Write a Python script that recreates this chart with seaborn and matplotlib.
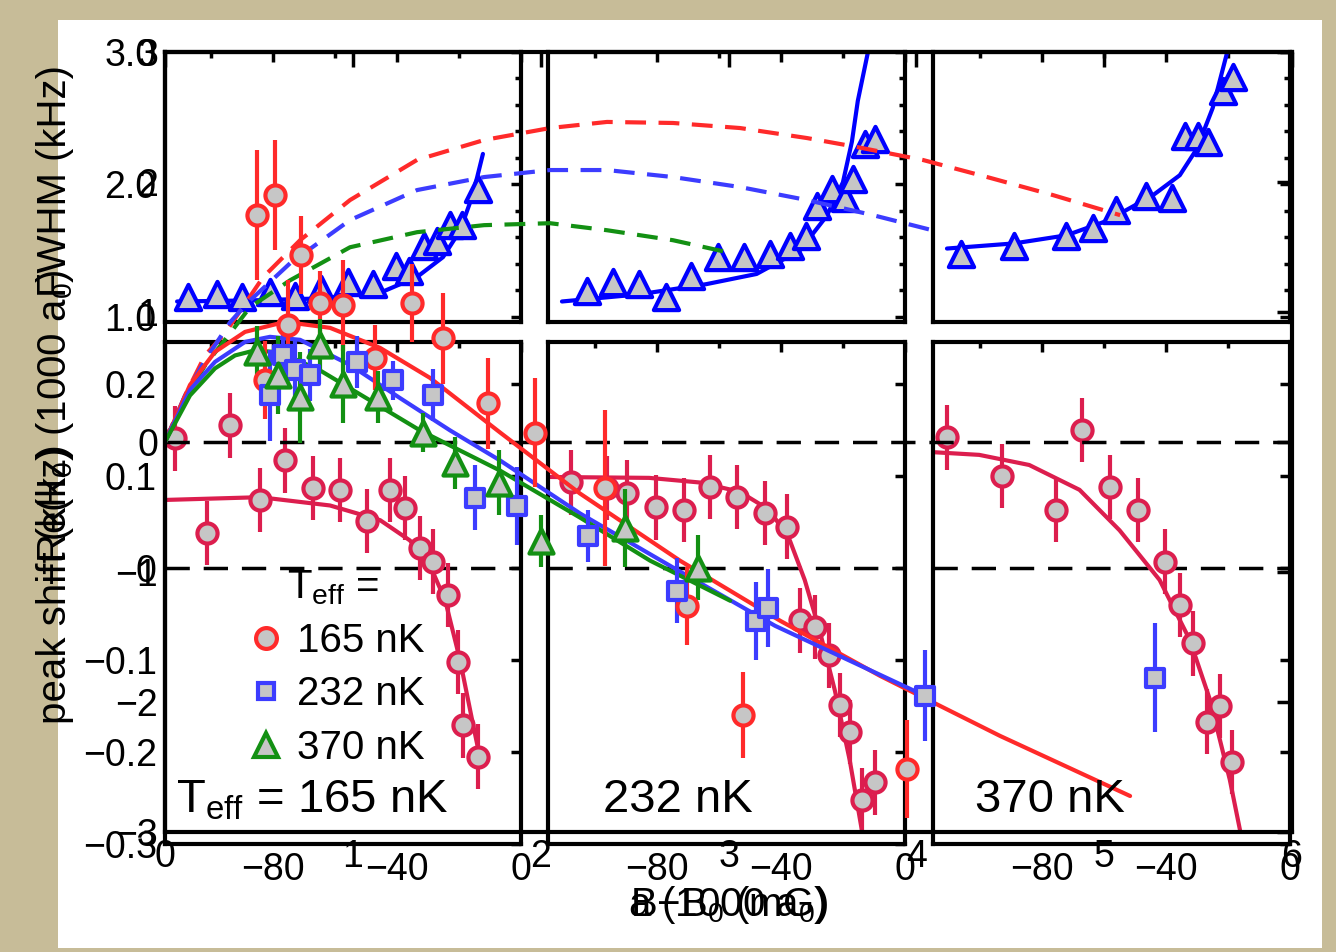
import matplotlib
matplotlib.use("Agg")
import matplotlib.pyplot as plt
import seaborn as sns
from matplotlib.patches import Rectangle
from matplotlib.lines import Line2D
from matplotlib.ticker import FixedLocator, MultipleLocator

# ---------------- Figure A data: a (1000 a0) vs value (1000 a0) ----------------
temps = ["165 nK", "232 nK", "370 nK"]

red_pts_a = [0.49, 0.586, 0.724, 0.655, 0.825, 0.948, 1.315, 1.48, 1.118, 0.532, 1.72, 1.97, 2.343, 2.78, 3.078, 3.95]
red_pts_v = [1.745, 1.90, 1.437, 0.897, 1.067, 1.052, 1.067, 0.797, 0.647, 0.474, 0.297, 0.073, -0.35, -1.26, -2.10, -2.515]
red_pts_e = [0.5, 0.42, 0.3, 0.35, 0.25, 0.35, 0.3, 0.35, 0.25, 0.3, 0.35, 0.42, 0.6, 0.3, 0.33, 0.38]

blue_pts_a = [0.559, 0.628, 0.692, 0.772, 1.022, 1.214, 1.427, 1.651, 1.874, 2.252, 2.726, 3.147, 3.21, 4.047, 5.27]
blue_pts_v = [0.358, 0.666, 0.551, 0.513, 0.612, 0.474, 0.359, -0.428, -0.489, -0.72, -1.144, -1.375, -1.275, -1.953, -1.814]
blue_pts_e = [0.35, 0.2, 0.25, 0.2, 0.2, 0.15, 0.2, 0.25, 0.3, 0.2, 0.25, 0.3, 0.3, 0.35, 0.42]

green_pts_a = [0.49, 0.60, 0.719, 0.825, 0.948, 1.134, 1.374, 1.544, 1.779, 2.0, 2.449, 2.838]
green_pts_v = [0.69, 0.513, 0.343, 0.743, 0.45, 0.343, 0.073, -0.158, -0.312, -0.759, -0.659, -0.967]
green_pts_e = [0.2, 0.3, 0.35, 0.2, 0.3, 0.2, 0.15, 0.2, 0.25, 0.2, 0.3, 0.25]

# solid curves (real part)
red_re_a = [0, .133, .266, .426, .639, .879, 1.145, 1.411, 1.784, 2.21, 2.742, 3.275, 3.807, 4.446, 5.138]
red_re_v = [0, .439, .693, .847, .924, .878, .724, .493, .073, -.397, -.913, -1.375, -1.799, -2.261, -2.723]
blue_re_a = [0, .133, .266, .426, .559, .719, .985, 1.25, 1.518, 1.784, 2.21, 2.716, 3.248, 4.047]
blue_re_v = [0, .40, .616, .77, .809, .786, .593, .339, .089, -.142, -.55, -.975, -1.414, -1.953]
green_re_a = [0, .133, .266, .373, .479, .612, .825, 1.092, 1.358, 1.784, 2.21, 2.583, 3.009]
green_re_v = [0, .358, .566, .666, .705, .689, .551, .32, .089, -.22, -.582, -.913, -1.221]

# dashed curves
red_im_a = [0, .107, .213, .319, .522, .719, .985, 1.342, 1.699, 2.050, 2.353, 2.705, 3.062, 3.418, 3.684, 4.036, 4.377, 4.728, 5.085]
red_im_v = [0, .358, .666, .836, 1.267, 1.552, 1.861, 2.17, 2.323, 2.415, 2.462, 2.454, 2.415, 2.338, 2.269, 2.169, 2.038, 1.899, 1.745]
blue_im_a = [0, .107, .213, .346, .436, .666, .985, 1.342, 1.699, 2.050, 2.353, 2.705, 3.062, 3.418, 3.769, 4.126]
blue_im_v = [0, .358, .628, .92, 1.066, 1.375, 1.707, 1.938, 2.038, 2.092, 2.092, 2.038, 1.961, 1.861, 1.745, 1.614]
green_im_a = [0, .107, .213, .346, .452, .666, .985, 1.342, 1.699, 2.050, 2.353, 2.705, 2.993]
green_im_v = [0, .335, .589, .836, 1.036, 1.244, 1.498, 1.614, 1.668, 1.683, 1.629, 1.552, 1.46]

# ---------------- Figure B data: B-B0 (mG) ----------------
panel_labels = [r"T$_{\rm eff}$ = 165 nK", "232 nK", "370 nK"]

fwhm_x = [
    [-107.6, -98.2, -90.1, -81.1, -73.0, -64.6, -55.9, -47.8, -40.4, -36.2, -31.3, -27.1, -22.9, -19.1, -13.9],
    [-102.4, -94.0, -85.6, -76.9, -68.8, -60.1, -52.0, -43.6, -37.1, -32.0, -28.4, -23.6, -19.4, -16.8, -12.9, -9.7],
    [-105.9, -88.8, -72.0, -63.6, -55.9, -46.5, -38.1, -33.9, -29.7, -26.5, -21.6, -18.4],
]
fwhm_y = [
    [1.146, 1.169, 1.146, 1.185, 1.154, 1.208, 1.262, 1.246, 1.385, 1.346, 1.531, 1.569, 1.692, 1.692, 1.962],
    [1.192, 1.262, 1.246, 1.146, 1.308, 1.454, 1.454, 1.477, 1.538, 1.608, 1.838, 1.962, 1.90, 2.038, 2.308, 2.346],
    [1.477, 1.538, 1.608, 1.669, 1.808, 1.915, 1.90, 2.362, 2.362, 2.323, 2.708, 2.808],
]
fwhm_fit_x = [
    [-111.1, -87.5, -64.9, -44.6, -33.6, -25.2, -19.7, -16.5, -14.2, -12.3],
    [-110.5, -85.6, -64.0, -47.8, -33.9, -25.2, -20.0, -17.1, -15.2, -12.0],
    [-110.5, -88.8, -72.0, -59.1, -44.3, -35.5, -30.0, -24.9, -20.3],
]
fwhm_fit_y = [
    [1.115, 1.123, 1.138, 1.19, 1.30, 1.45, 1.65, 1.86, 2.05, 2.23],
    [1.115, 1.169, 1.246, 1.323, 1.50, 1.762, 2.015, 2.323, 2.631, 2.992],
    [1.515, 1.554, 1.615, 1.723, 1.915, 2.069, 2.269, 2.577, 2.992],
]

shift_x = [
    [-111.8, -101.4, -94.0, -84.3, -76.2, -67.2, -58.5, -49.7, -42.3, -37.5, -32.6, -28.4, -23.6, -20.3, -18.7, -13.9],
    [-107.6, -96.0, -89.5, -80.1, -71.1, -62.7, -54.0, -45.2, -38.1, -33.9, -29.1, -24.5, -21.0, -17.8, -13.9, -9.7],
    [-110.5, -92.7, -75.3, -66.9, -58.1, -49.1, -40.4, -35.5, -31.3, -26.8, -22.6, -18.7],
]
shift_y = [
    [.141, .038, .155, .074, .117, .087, .085, .051, .085, .065, .022, .007, -.029, -.102, -.171, -.205],
    [.093, .087, .082, .066, .063, .088, .077, .060, .045, -.057, -.064, -.095, -.149, -.178, -.252, -.233],
    [.142, .100, .063, .150, .088, .063, .007, -.040, -.082, -.167, -.150, -.211],
]
shift_fit_x = [
    [-115, -84.3, -61.7, -45.5, -35.9, -29.4, -24.5, -19.7, -15.8, -13.2],
    [-115.3, -82.4, -66.2, -53.3, -43.6, -37.1, -32.3, -27.5, -22.6, -17.8, -13.9],
    [-115.3, -100.1, -84.0, -67.8, -54.9, -42.0, -32.3, -25.8, -19.4, -16.1],
]
shift_fit_y = [
    [.074, .077, .068, .052, .030, .003, -.035, -.100, -.165, -.207],
    [.099, .098, .093, .083, .063, .030, -.013, -.068, -.133, -.209, -.285],
    [.126, .123, .112, .085, .041, -.013, -.078, -.143, -.230, -.285],
]

# ---------------- styling ----------------
sns.set_theme(style="white")
plt.rcParams["font.family"] = ["Liberation Sans", "DejaVu Sans"]
plt.rcParams["mathtext.fontset"] = "custom"
plt.rcParams["mathtext.rm"] = "Liberation Sans"
plt.rcParams["mathtext.it"] = "Liberation Sans:italic"
plt.rcParams["text.color"] = "black"
plt.rcParams["xtick.color"] = "black"
plt.rcParams["ytick.color"] = "black"

W, H = 1336, 952
RED, BLUE, GREEN = "#ff2a2a", "#3c3cff", "#139013"
CRIMSON, PBLUE = "#dc1e4e", "#0000ff"
GRAY = "#c6c6c6"
TICKFS = 27

fig = plt.figure(figsize=(W / 100, H / 100), dpi=100, facecolor="#c7bc98")
fig.patches.append(Rectangle((58 / W, 1 - 948 / H), (1322 - 58) / W, (948 - 20) / H,
                             transform=fig.transFigure, facecolor="white", edgecolor="none", zorder=-5))


def rect(x0, x1, y0, y1):
    return [x0 / W, 1 - y1 / H, (x1 - x0) / W, (y1 - y0) / H]


def style_axes(ax, lw=3.0):
    for s in ax.spines.values():
        s.set_linewidth(lw)
        s.set_color("black")
    ax.tick_params(which="both", direction="in", top=True, right=True, colors="black",
                   labelcolor="black", labelsize=TICKFS, width=2.5, pad=6)
    ax.tick_params(which="major", length=7)
    ax.tick_params(which="minor", length=4)


cols = [(165, 521), (548, 905), (933, 1290)]
rows = [(52, 322), (342, 844)]

for j, (x0, x1) in enumerate(cols):
    # top row: FWHM
    axt = fig.add_axes(rect(x0, x1, *rows[0]), zorder=1)
    axt.set_facecolor("white")
    sns.lineplot(x=fwhm_fit_x[j], y=fwhm_fit_y[j], ax=axt, color=PBLUE, lw=3, sort=False, estimator=None)
    axt.errorbar(fwhm_x[j], fwhm_y[j], yerr=[[0.06] * len(fwhm_y[j]), [0.0] * len(fwhm_y[j])],
                 fmt="none", ecolor=PBLUE, elinewidth=2.5, zorder=4)
    sns.scatterplot(x=fwhm_x[j], y=fwhm_y[j], ax=axt, marker="^", s=330, color=GRAY,
                    edgecolor=PBLUE, linewidth=3, zorder=5)
    axt.set_xlim(-115, 0)
    axt.set_ylim(0.96, 3.0)
    style_axes(axt)
    axt.xaxis.set_major_locator(FixedLocator([-80, -40, 0]))
    axt.xaxis.set_minor_locator(FixedLocator([-100, -60, -20]))
    axt.yaxis.set_major_locator(FixedLocator([1, 2, 3]))
    axt.yaxis.set_minor_locator(MultipleLocator(0.2))
    axt.set_xticklabels([])
    if j == 0:
        axt.set_yticklabels(["1.0", "2.0", "3.0"], fontsize=TICKFS)
    else:
        axt.set_yticklabels([])
    axt.set_xlabel("")
    axt.set_ylabel("")

    # bottom row: peak shift
    axb = fig.add_axes(rect(x0, x1, *rows[1]), zorder=1)
    axb.set_facecolor("white")
    axb.axhline(0, color="black", lw=2.5, dashes=(7, 4), zorder=1)
    sns.lineplot(x=shift_fit_x[j], y=shift_fit_y[j], ax=axb, color=CRIMSON, lw=3, sort=False, estimator=None)
    axb.errorbar(shift_x[j], shift_y[j], yerr=0.035, fmt="none", ecolor=CRIMSON, elinewidth=3, zorder=4)
    sns.scatterplot(x=shift_x[j], y=shift_y[j], ax=axb, marker="o", s=210, color=GRAY,
                    edgecolor=CRIMSON, linewidth=3, zorder=5)
    axb.set_xlim(-115, 0)
    axb.set_ylim(-0.3, 0.2457)
    style_axes(axb)
    axb.xaxis.set_major_locator(FixedLocator([-80, -40, 0]))
    axb.xaxis.set_minor_locator(FixedLocator([-100, -60, -20]))
    axb.yaxis.set_major_locator(FixedLocator([-0.3, -0.2, -0.1, 0, 0.1, 0.2]))
    axb.set_xticklabels(["\u221280", "\u221240", "0"], fontsize=TICKFS)
    if j == 0:
        axb.set_yticklabels(["\u22120.3", "\u22120.2", "\u22120.1", "0", "0.1", "0.2"], fontsize=TICKFS)
    else:
        axb.set_yticklabels([])
    axb.set_xlabel("")
    axb.set_ylabel("")
    tx = {0: (176, 800, "left"), 1: (678, 800, "center"), 2: (1050, 800, "center")}[j]
    fig.text(tx[0] / W, 1 - tx[1] / H, panel_labels[j], fontsize=34, ha=tx[2], va="center",
             color="black", zorder=30)

# ---------------- overlay axes: figure A ----------------
axA = fig.add_axes(rect(165, 1292, 52, 832), zorder=10)
axA.patch.set_alpha(0)
axA.axhline(0, color="black", lw=2.5, dashes=(7, 4), zorder=1)
for xa, va, c in [(red_im_a, red_im_v, RED), (blue_im_a, blue_im_v, BLUE), (green_im_a, green_im_v, GREEN)]:
    sns.lineplot(x=xa, y=va, ax=axA, color=c, lw=3, sort=False, estimator=None)
    axA.lines[-1].set_dashes((5, 3))
for xa, va, c in [(red_re_a, red_re_v, RED), (blue_re_a, blue_re_v, BLUE), (green_re_a, green_re_v, GREEN)]:
    sns.lineplot(x=xa, y=va, ax=axA, color=c, lw=3, sort=False, estimator=None)

pts = [
    (red_pts_a, red_pts_v, red_pts_e, RED, "o", 210),
    (blue_pts_a, blue_pts_v, blue_pts_e, BLUE, "s", 150),
    (green_pts_a, green_pts_v, green_pts_e, GREEN, "^", 300),
]
for xa, va, ea, c, m, s in pts:
    axA.errorbar(xa, va, yerr=ea, fmt="none", ecolor=c, elinewidth=3, zorder=6)
    sns.scatterplot(x=xa, y=va, ax=axA, marker=m, s=s, color=GRAY, edgecolor=c, linewidth=3, zorder=7)

axA.set_xlim(0, 6)
axA.set_ylim(-3, 3)
style_axes(axA)
axA.tick_params(which="major", length=11, pad=5)
axA.set_xticks([0, 1, 2, 3, 4, 5, 6], ["0", "1", "2", "3", "4", "5", "6"], fontsize=TICKFS)
axA.set_yticks([-3, -2, -1, 0, 1, 2, 3], ["\u22123", "\u22122", "\u22121", "0", "1", "2", "3"],
               fontsize=TICKFS)
axA.set_xlabel("")
axA.set_ylabel("")

handles = [
    Line2D([], [], ls="none", marker="o", ms=15, mfc=GRAY, mec=RED, mew=3),
    Line2D([], [], ls="none", marker="s", ms=12, mfc=GRAY, mec=BLUE, mew=3),
    Line2D([], [], ls="none", marker="^", ms=17, mfc=GRAY, mec=GREEN, mew=3),
]
leg = axA.legend(handles, temps, title=r"T$_{\rm eff}$ =", frameon=False, fontsize=29,
                 title_fontsize=29, loc="upper left", bbox_to_anchor=(222 / W, 1 - 548 / H),
                 bbox_transform=fig.transFigure, handletextpad=0.15, labelspacing=0.38,
                 borderpad=0, handlelength=1.2)
for t in leg.get_texts():
    t.set_color("black")
leg.get_title().set_color("black")
leg.set_zorder(20)

# ---------------- axis labels ----------------
fig.text(55 / W, 1 - 181 / H, "FWHM (kHz)", rotation=90, fontsize=29, ha="center", va="center")
fig.text(55 / W, 1 - 584 / H, "peak shift (kHz)", rotation=90, fontsize=29, ha="center", va="center")
fig.text(55 / W, 1 - 428 / H, r"$-$Re(k$_0$) (1000 a$_0$)", rotation=90, fontsize=29,
         ha="center", va="center")
fig.text(728 / W, 1 - 905 / H, r"B$-$B$_0$ (mG)", fontsize=29, ha="center", va="center")
fig.text(728 / W, 1 - 905 / H, r"a (1000 a$_0$)", fontsize=29, ha="center", va="center")

fig.savefig("out.png", dpi=100, facecolor=fig.get_facecolor())
